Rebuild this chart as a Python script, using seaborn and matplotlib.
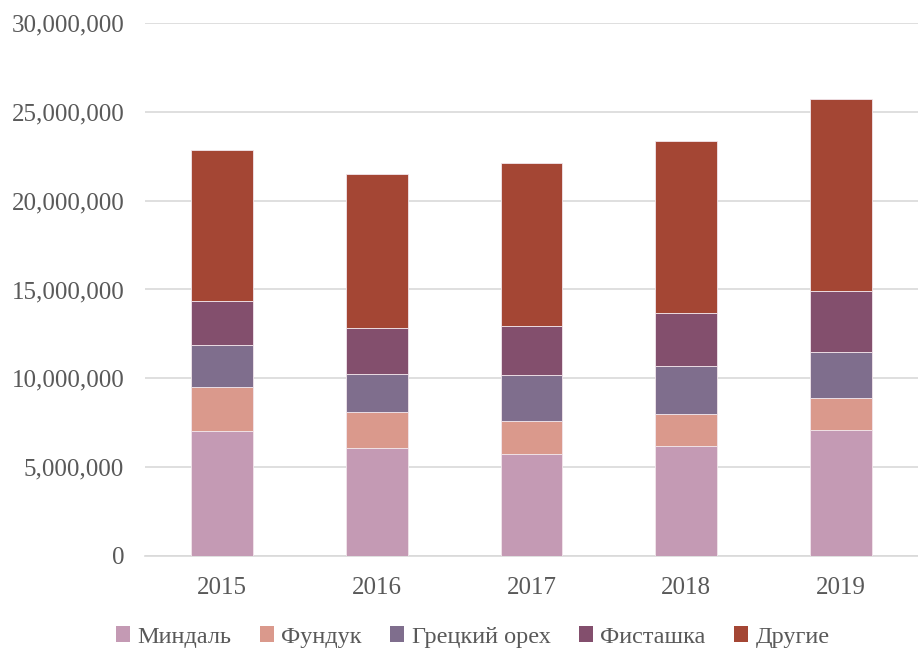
import matplotlib
matplotlib.use("Agg")
import matplotlib.pyplot as plt
import seaborn as sns
import numpy as np
from matplotlib.ticker import FuncFormatter
from matplotlib.patches import Patch

years = ["2015", "2016", "2017", "2018", "2019"]
series_names = ["Миндаль", "Фундук", "Грецкий орех", "Фисташка", "Другие"]
mindal = [7.03e6, 6.08e6, 5.76e6, 6.19e6, 7.07e6]
funduk = [2.46e6, 2.04e6, 1.86e6, 1.78e6, 1.84e6]
gretsky = [2.41e6, 2.13e6, 2.57e6, 2.73e6, 2.59e6]
fistashka = [2.46e6, 2.59e6, 2.74e6, 2.99e6, 3.44e6]
drugie = [8.47e6, 8.64e6, 9.17e6, 9.65e6, 10.80e6]
colors = ["#C49AB4", "#DA998C", "#7F6E8D", "#834F6D", "#A44634"]

sns.set_theme(style="white")
plt.rcParams["font.family"] = ["Liberation Serif", "DejaVu Serif"]

fig = plt.figure(figsize=(9.18, 6.52), dpi=100)
ax = fig.add_axes([145/918, 1-556/652, 773/918, (556-23)/652])

series = [mindal, funduk, gretsky, fistashka, drugie]
bottom = np.zeros(len(years))
for name, vals, c in zip(series_names, series, colors):
    sns.barplot(x=years, y=vals, bottom=bottom, color=c, width=0.4,
                ax=ax, saturation=1, linewidth=0.6, edgecolor="#F2E6EC", zorder=3)
    bottom = bottom + np.array(vals)

ax.set_ylim(0, 30e6)
ax.set_xlim(-0.5, 4.5)
ax.set_yticks(np.arange(0, 30e6 + 1, 5e6))
ax.yaxis.set_major_formatter(FuncFormatter(lambda v, p: f"{int(v):,}"))
ax.grid(axis="y", color="#D9D9D9", linewidth=1.2, zorder=0)
for s in ["top", "right", "left"]:
    ax.spines[s].set_visible(False)
ax.spines["bottom"].set_color("#D9D9D9")
ax.spines["bottom"].set_linewidth(1.2)
ax.tick_params(axis="both", length=0, labelsize=18, colors="#595959")
ax.tick_params(axis="y", pad=15)
ax.tick_params(axis="x", pad=15)
ax.set_xlabel("")
ax.set_ylabel("")

handles = [Patch(facecolor=c, edgecolor="none") for c in colors]
fig.legend(handles, series_names, loc="center", bbox_to_anchor=(0.515, 1-637/652),
           ncol=5, frameon=False, fontsize=17.5, handlelength=0.6, handleheight=0.6,
           handletextpad=0.3, columnspacing=1.15, labelcolor="#595959")

fig.savefig("out.png", dpi=100)
